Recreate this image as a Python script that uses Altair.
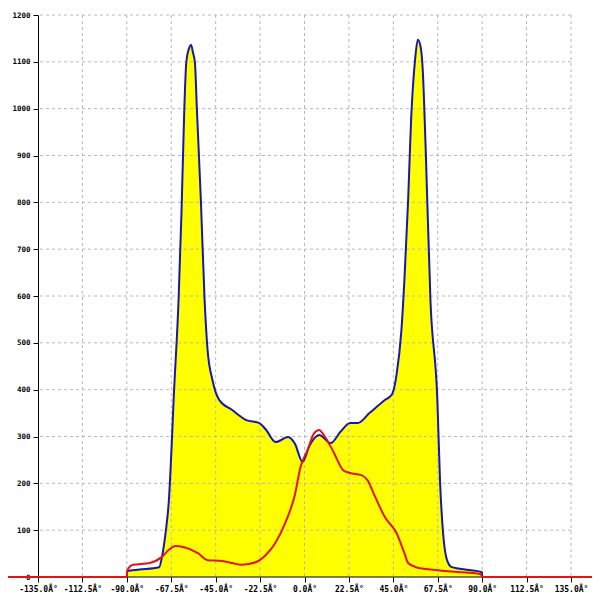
import altair as alt
import pandas as pd

# Blue (total) curve: angle in degrees, value
blue_x = [-90.0, -89.9, -83.5, -73.6, -72.2, -70.2, -68.7, -67.3, -66.3, -63.8, -62.3, -60.9,
          -59.9, -58.4, -57.4, -56.5, -55.5, -54.5, -52.5, -50.6, -49.1, -46.6, -43.2, -36.8,
          -29.5, -23.1, -19.6, -14.7, -8.3, -4.9, -1.0, 2.5, 7.4, 13.3, 18.2, 23.1, 27.0, 32.9,
          40.7, 44.2, 46.6, 49.1, 50.6, 52.5, 54.0, 56.0, 57.4, 58.9, 59.9, 61.4, 63.8, 67.3,
          68.7, 70.2, 72.2, 74.6, 83.5, 89.3, 89.9, 90.0]
blue_y = [0, 13, 16, 21, 43, 100, 164, 280, 378, 591, 780, 997,
          1098, 1130, 1136, 1120, 1098, 997, 805, 591, 485, 420, 378, 357,
          335, 329, 315, 288, 299, 285, 246, 280, 303, 286, 310, 329, 329, 350,
          378, 389, 431, 527, 634, 805, 976, 1104, 1147, 1130, 1083, 912, 591, 378,
          200, 94, 36, 21, 15, 11, 10, 0]

# Red curve
red_x = [-180.0, -90.0, -89.9, -86.9, -78.5, -72.2, -68.7, -65.3, -61.4, -54.0, -49.1, -41.7,
         -36.8, -31.9, -24.5, -19.6, -14.7, -9.8, -4.9, -2.0, 1.5, 4.9, 7.4, 9.8, 14.7, 19.6,
         23.1, 28.5, 31.9, 35.8, 40.7, 46.6, 50.6, 52.5, 56.5, 66.3, 76.1, 83.5, 89.3, 90.0, 180.0]
red_y = [0, 0, 13, 26, 30, 43, 58, 66, 64, 51, 36, 34,
         30, 26, 32, 47, 73, 115, 175, 235, 271, 307, 314, 303, 267, 228,
         222, 218, 207, 171, 128, 94, 51, 30, 21, 15, 11, 9, 6, 0, 0]

x_ticks = [-135, -112.5, -90, -67.5, -45, -22.5, 0, 22.5, 45, 67.5, 90, 112.5, 135]
y_ticks = [0, 100, 200, 300, 400, 500, 600, 700, 800, 900, 1000, 1100, 1200]

blue_df = pd.DataFrame({"x": blue_x, "y": blue_y})
red_df = pd.DataFrame({"x": red_x, "y": red_y})
vgrid_df = pd.DataFrame({"x": x_ticks[1:]})
hgrid_df = pd.DataFrame({"y": y_ticks[1:]})
base_df = pd.DataFrame({"y": [0]})

FONT = "DejaVu Sans Mono"

xenc = alt.X(
    "x:Q",
    scale=alt.Scale(domain=[-135, 135], nice=False, zero=False),
    axis=alt.Axis(
        values=x_ticks, grid=False, domain=False, title=None,
        labelExpr="(datum.value < 0 ? '-' : '') + format(abs(datum.value), '.1f') + 'Â°'",
        labelFont=FONT, labelFontSize=8, labelFontWeight="bold", labelColor="black",
        labelOverlap=False,
        tickColor="black", tickSize=5, labelPadding=3, labelFlush=False, zindex=0,
    ),
)
yenc = alt.Y(
    "y:Q",
    scale=alt.Scale(domain=[0, 1200], nice=False),
    axis=alt.Axis(
        values=y_ticks, grid=False, domain=True, domainColor="black", title=None,
        format="d",
        labelFont=FONT, labelFontSize=7.5, labelFontWeight="bold", labelColor="black",
        labelOverlap=False,
        tickColor="black", tickSize=5, labelPadding=3, labelFlush=False, zindex=0,
    ),
)

area = alt.Chart(blue_df).mark_area(color="#ffff00", opacity=1, interpolate="monotone").encode(
    x=xenc, y=yenc
)
vgrid = alt.Chart(vgrid_df).mark_rule(color="#b8b8b8", strokeDash=[3, 3], strokeWidth=1).encode(x=xenc)
hgrid = alt.Chart(hgrid_df).mark_rule(color="#b8b8b8", strokeDash=[3, 3], strokeWidth=1).encode(y=yenc)
base = alt.Chart(base_df).mark_rule(color="black", strokeWidth=1).encode(y=yenc)
blue = alt.Chart(blue_df).mark_line(color="#1616b0", strokeWidth=2, interpolate="monotone").encode(
    x=xenc, y=yenc
)
red = alt.Chart(red_df).mark_line(color="#e41414", strokeWidth=2, clip=False, interpolate="monotone").encode(
    x=xenc, y=yenc
)

chart = alt.layer(area, vgrid, hgrid, base, blue, red).properties(
    width=533, height=562,
    autosize="none",
    padding={"left": 30, "top": 7, "right": 21, "bottom": 20},
    background="white",
).configure_view(stroke=None)

chart.save("out.html", embed_options={"renderer": "svg", "actions": False})
